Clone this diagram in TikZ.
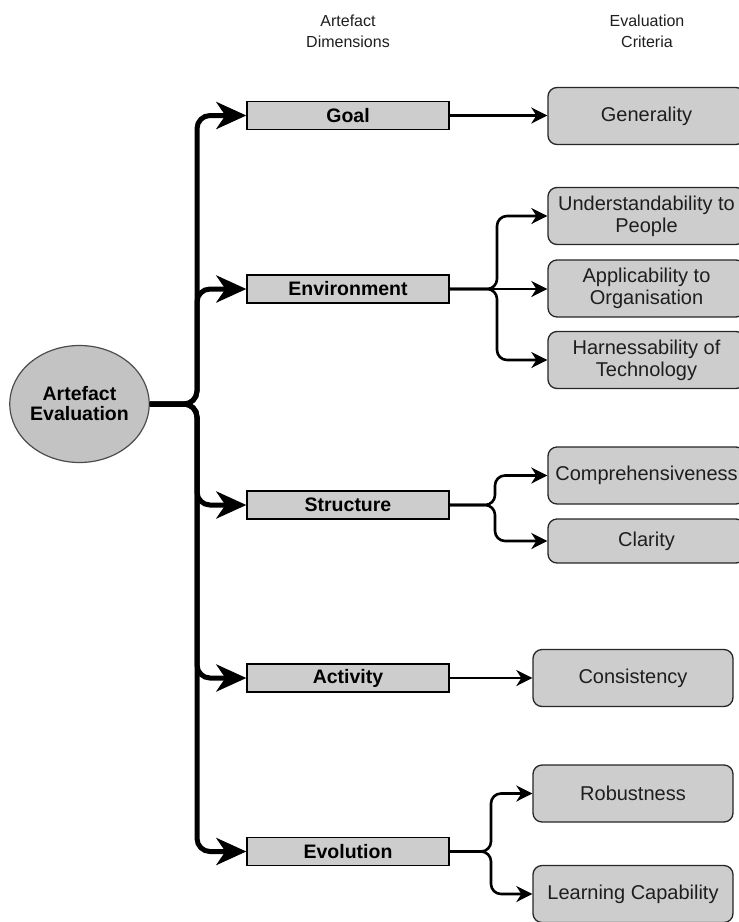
\documentclass[tikz,border=0pt]{standalone}
\usepackage{fontspec}
\setmainfont{Liberation Sans}
\usetikzlibrary{arrows.meta,shapes.geometric}
\definecolor{boxgray}{RGB}{205,205,205}
\definecolor{ellgray}{RGB}{195,195,195}
\definecolor{txt}{RGB}{30,30,30}
\begin{document}
\begin{tikzpicture}[x=1pt,y=-1pt,
  header/.style={align=center, text=txt, font=\fontsize{16}{21}\selectfont},
  dimbox/.style={draw=black, line width=1.3pt, fill=boxgray, minimum width=202pt, minimum height=28pt, inner sep=0pt, text=black, font=\fontsize{19.5}{22}\selectfont\bfseries},
  critbox/.style={draw=black!85, line width=1.3pt, fill=boxgray, rounded corners=9pt, inner sep=0pt, align=center, text=txt, font=\fontsize{20}{22}\selectfont},
  upcrit/.style={critbox, minimum width=197pt, minimum height=57pt},
  lowcrit/.style={critbox, minimum width=200pt, minimum height=57pt},
  trunk/.style={line width=5pt, rounded corners=13pt, -{Stealth[length=30pt,width=27pt,inset=9pt]}},
  twig/.style={line width=2.6pt, rounded corners=10pt, -{Stealth[length=16pt,width=16pt,inset=5pt]}}]
\useasboundingbox (0,0) rectangle (739,922);

% headers
\node[header] (h1) at (348,31) {Artefact\\Dimensions};
\node[header] (h2) at (647,31) {Evaluation\\Criteria};

% root
\node[ellipse, draw=black!70, line width=1.2pt, fill=ellgray, minimum width=135pt, minimum height=117pt, inner sep=0pt, align=center, text=black, font=\fontsize{19.5}{20}\selectfont\bfseries] (AE) at (79.5,404) {Artefact\\Evaluation};

% dimensions
\node[dimbox] (G)  at (348,115.5) {Goal};
\node[dimbox] (EN) at (348,289) {Environment};
\node[dimbox] (S)  at (348,505) {Structure};
\node[dimbox] (AC) at (348,678) {Activity};
\node[dimbox] (EV) at (348,851.5) {Evolution};

% criteria
\node[upcrit] (GEN) at (646.5,116) {Generality};
\node[upcrit] (UP)  at (646.5,216) {Understandability to\\People};
\node[upcrit] (AO)  at (646.5,288.5) {Applicability to\\Organisation};
\node[upcrit] (HT)  at (646.5,360) {Harnessability of\\Technology};
\node[upcrit] (CO)  at (646.5,475.5) {Comprehensiveness};
\node[upcrit, minimum height=44pt] (CL) at (646.5,541) {Clarity};
\node[lowcrit] (CS) at (633,678) {Consistency};
\node[lowcrit] (RB) at (633,793.5) {Robustness};
\node[lowcrit] (LC) at (633,894) {Learning Capability};

% trunk
\coordinate (tr) at (197,404);
\draw[trunk] (AE.east) -- (tr) |- (G.west);
\draw[trunk] (AE.east) -- (tr) |- (EN.west);
\draw[trunk] (AE.east) -- (tr) |- (S.west);
\draw[trunk] (AE.east) -- (tr) |- (AC.west);
\draw[trunk] (AE.east) -- (tr) |- (EV.west);

% twigs
\draw[twig] (G.east) -- (G.east -| GEN.west);
\coordinate (ej) at (497,289);
\draw[twig] (EN.east) -- (ej) |- (UP.west);
\draw[twig] (EN.east) -- (EN.east -| AO.west);
\draw[twig] (EN.east) -- (ej) |- (HT.west);
\coordinate (sj) at (495,505);
\draw[twig] (S.east) -- (sj) |- (CO.west);
\draw[twig] (S.east) -- (sj) |- (CL.west);
\draw[twig] (AC.east) -- (AC.east -| CS.west);
\coordinate (vj) at (491,851.5);
\draw[twig] (EV.east) -- (vj) |- (RB.west);
\draw[twig] (EV.east) -- (vj) |- (LC.west);
\end{tikzpicture}
\end{document}
